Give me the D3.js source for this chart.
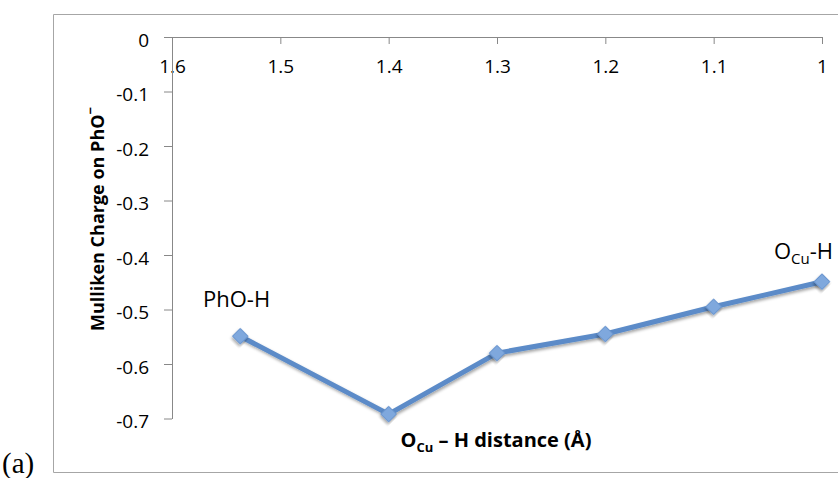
<!DOCTYPE html>
<html lang="en">
<head>
<meta charset="UTF-8">
<title>Mulliken charge vs O-H distance</title>
<script src="https://d3js.org/d3.v7.min.js"></script>
<style>
    body { margin: 0; background: #fff; }
</style>
</head>
<body>
<svg id="chart" width="838" height="478" font-family='"Open Sans", sans-serif'></svg>
<script>
    // data
    let distances = [1.537, 1.4, 1.3, 1.2, 1.1, 1.0],
        charges = [-0.549, -0.692, -0.580, -0.545, -0.495, -0.449],
        xTicks = [1.6, 1.5, 1.4, 1.3, 1.2, 1.1, 1],
        yTicks = [0, -0.1, -0.2, -0.3, -0.4, -0.5, -0.6, -0.7];

    let svg = d3.select('#chart'),
        x = d3.scaleLinear().domain([1.6, 1.0]).range([172, 822]),
        y = d3.scaleLinear().domain([0, -0.7]).range([37, 418.5]),
        axisCol = '#888', lineCol = '#5b8bc8',
        fmt = d => String(d);  // plain hyphen, as in the original

    let defs = svg.append('defs');
    defs.append('filter').attr('id', 'shadow')
        .attr('x', '-20%').attr('y', '-20%').attr('width', '140%').attr('height', '160%')
        .append('feDropShadow')
        .attr('dx', 1).attr('dy', 2).attr('stdDeviation', 1.6)
        .attr('flood-color', '#000').attr('flood-opacity', 0.35);

    // outer frame (right side runs off the picture)
    svg.append('path')
        .attr('d', 'M900,14.5H53.5V472.5H900')
        .attr('fill', 'none').attr('stroke', '#a6a6a6');

    // x axis on top, at y = 0
    let xAxis = svg.append('g').attr('transform', `translate(0,${y(0)})`)
        .call(d3.axisBottom(x).tickValues(xTicks).tickSize(7).tickSizeOuter(0).tickPadding(16)
            .tickFormat(fmt));
    xAxis.select('.domain').attr('stroke', axisCol);
    xAxis.selectAll('line').attr('stroke', axisCol);
    xAxis.attr('font-size', 19).attr('font-family', '"Open Sans", sans-serif');
    xAxis.selectAll('text').attr('fill', '#000');

    let yAxis = svg.append('g').attr('transform', `translate(${x(1.6)},0)`)
        .call(d3.axisLeft(y).tickValues(yTicks).tickSize(8).tickSizeOuter(0).tickPadding(15)
            .tickFormat(fmt));
    yAxis.select('.domain').attr('stroke', axisCol);
    yAxis.selectAll('line').attr('stroke', axisCol);
    yAxis.attr('font-size', 19).attr('font-family', '"Open Sans", sans-serif');
    yAxis.selectAll('text').attr('fill', '#000').attr('dy', '0.48em');

    // series
    let pts = distances.map((d, i) => [d, charges[i]]);
    svg.append('path').datum(pts)
        .attr('fill', 'none').attr('stroke', lineCol).attr('stroke-width', 5)
        .attr('stroke-linejoin', 'round')
        .attr('filter', 'url(#shadow)')
        .attr('d', d3.line().x(d => x(d[0])).y(d => y(d[1])));

    svg.append('g').selectAll('path').data(pts).enter().append('path')
        .attr('d', d3.symbol(d3.symbolSquare, 121))
        .attr('transform', d => `translate(${x(d[0])},${y(d[1])}) rotate(45)`)
        .attr('fill', '#7fa8dd').attr('stroke', '#6a96cf').attr('stroke-width', 1)
        .attr('filter', 'url(#shadow)');

    // point labels
    svg.append('text').attr('x', 203).attr('y', 307).attr('font-size', 22).text('PhO-H');
    let lb = svg.append('text').attr('x', 833).attr('y', 259).attr('font-size', 22).attr('text-anchor', 'end');
    lb.append('tspan').text('O');
    lb.append('tspan').attr('font-size', 15).attr('dy', 5).text('Cu');
    lb.append('tspan').attr('dy', -5).text('-H');

    // axis titles
    let xt = svg.append('text').attr('x', 496).attr('y', 447).attr('font-size', 20)
        .attr('font-weight', 'bold').attr('text-anchor', 'middle');
    xt.append('tspan').text('O');
    xt.append('tspan').attr('font-size', 13).attr('dy', 5).text('Cu');
    xt.append('tspan').attr('dy', -5).text(' \u2013 H distance (\u00c5)');

    let yt = svg.append('text').attr('transform', 'translate(104,219) rotate(-90)')
        .attr('font-size', 18).attr('font-weight', 'bold').attr('text-anchor', 'middle');
    yt.append('tspan').text('Mulliken Charge on PhO');
    yt.append('tspan').attr('font-size', 13).attr('dy', -9).text('\u2212');

    // panel tag
    svg.append('text').attr('x', 2).attr('y', 473).attr('font-size', 29)
        .attr('font-family', '"Liberation Serif", serif').text('(a)');
</script>
</body>
</html>
